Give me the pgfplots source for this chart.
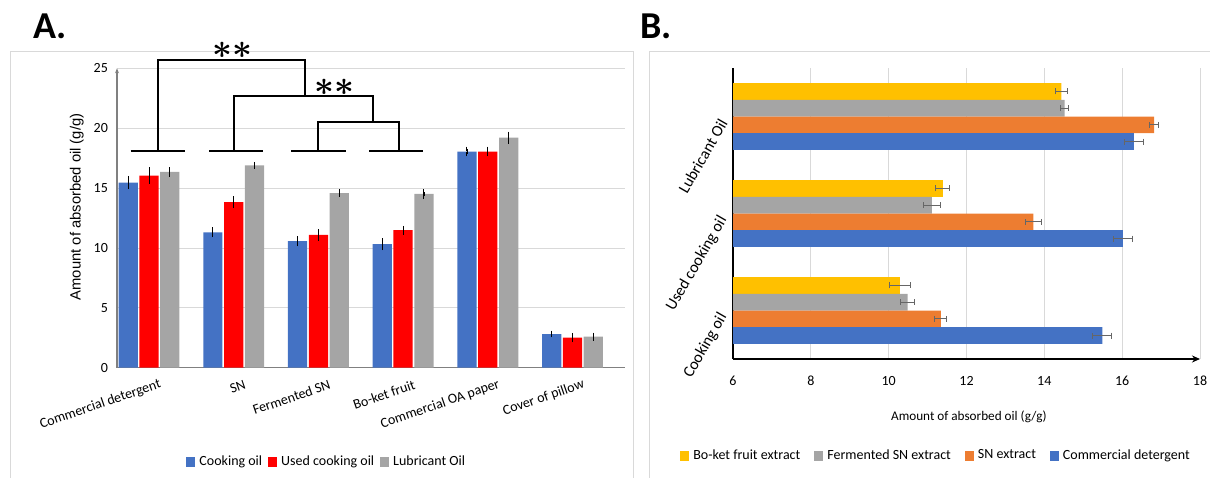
\documentclass[border=0pt]{standalone}
\usepackage{fontspec}
\setmainfont{Carlito}
\newfontfamily\arialfont{Liberation Sans}
\usepackage{pgfplots}
\usepackage{pgfplotstable}
\pgfplotsset{compat=1.18}
\usetikzlibrary{arrows.meta}

\definecolor{cblue}{HTML}{4472C4}
\definecolor{cred}{HTML}{FF0000}
\definecolor{cgray}{HTML}{A5A5A5}
\definecolor{corange}{HTML}{ED7D31}
\definecolor{cyellow}{HTML}{FFC000}
\definecolor{frame}{HTML}{D9D9D9}

% panel A: absorbents x oil type
\pgfplotstableread{
x  blu   eb    red   er    gry   eg
0  15.46 0.35  16.04 0.50  16.35 0.20
1  11.31 0.22  13.82 0.30  16.90 0.08
2  10.56 0.22  11.09 0.28  14.57 0.11
3  10.31 0.29  11.48 0.17  14.51 0.20
4  18.05 0.21  18.05 0.21  19.22 0.30
5  2.81  0.08  2.51  0.20  2.59  0.14
}\tabA

% panel B: oil type x extract
\pgfplotstableread{
y  yel   ey    gry   eg    org   eo    blu   eb
0  10.29 0.26  10.49 0.18  11.34 0.15  15.49 0.24
1  11.39 0.18  11.11 0.22  13.72 0.21  16.02 0.24
2  14.44 0.16  14.52 0.10  16.82 0.11  16.30 0.24
}\tabB

\pgfplotsset{
  sq legend/.style={legend image code/.code={\fill[##1] (0pt,-2.6pt) rectangle (4.5pt,2.6pt);}},
}

\begin{document}
\begin{tikzpicture}[x=1pt,y=1pt]
\useasboundingbox (0,0) rectangle (605,238.5);
\draw[frame, line width=0.5pt] (5,-2) -- (5,212.5) -- (316.5,212.5) -- (316.5,-2);
\draw[frame, line width=0.5pt] (324.5,-2) -- (324.5,212.5) -- (608,212.5);
\node[anchor=base west, inner sep=0, font=\bfseries\fontsize{19}{19}\selectfont] at (16.5,219) {A.};
\node[anchor=base west, inner sep=0, font=\bfseries\fontsize{19}{19}\selectfont] at (320,219) {B.};

\begin{axis}[
  at={(58.5pt,54.65pt)}, anchor=south west,
  scale only axis, width=254pt, height=149.7pt,
  xmin=-0.378, xmax=5.62, ymin=0, ymax=25,
  ytick={0,5,...,25},
  xtick={0,...,5},
  xticklabels={Commercial detergent, SN, Fermented SN, Bo-ket fruit, Commercial OA paper, Cover of pillow},
  axis x line=bottom, axis y line=left,
  x axis line style={-, draw=gray, line width=0.6pt},
  y axis line style={-{Stealth[length=2.5pt,width=2pt]}, draw=gray, line width=0.6pt},
  major tick length=0pt,
  ymajorgrids, grid style={frame, line width=0.4pt},
  ybar, bar width=0.227,
  /pgf/number format/assume math mode=true,
  tick label style={font=\fontsize{7}{8}\selectfont},
  yticklabel style={xshift=-1pt},
  xticklabel style={anchor=east, xshift=9pt, yshift=-7pt, rotate=19},
  ylabel={Amount of absorbed oil (g/g)},
  ylabel style={at={(axis description cs:-0.079,0.537)}, anchor=center, font=\arialfont\fontsize{7.4}{8}\selectfont},
  clip=false,
  sq legend,
  legend columns=3,
  legend style={at={(axis description cs:0.415,-0.315)}, anchor=center, draw=none, fill=none,
    font=\fontsize{7}{8}\selectfont, /tikz/every odd column/.append style={column sep=0pt},
    /tikz/every even column/.append style={column sep=1pt}},
  error bars/error bar style={black, line width=0.4pt},
  error bars/error mark options={black, mark size=1.2pt, line width=0.5pt},
]
\addplot[fill=cblue, draw=none, bar shift=-0.246, error bars/.cd, y dir=both, y explicit]
  table[x=x, y=blu, y error=eb] {\tabA};
\addplot[fill=cred, draw=none, bar shift=0, error bars/.cd, y dir=both, y explicit]
  table[x=x, y=red, y error=er] {\tabA};
\addplot[fill=cgray, draw=none, bar shift=0.246, error bars/.cd, y dir=both, y explicit]
  table[x=x, y=gry, y error=eg] {\tabA};
\legend{Cooking oil, Used cooking oil, Lubricant Oil}

% significance brackets
\addplot[sharp plot, forget plot, black, line width=1pt] coordinates {(-0.216,18.1) (0.426,18.1)};
\addplot[sharp plot, forget plot, black, line width=1pt] coordinates {(0.709,18.1) (1.348,18.1)};
\addplot[sharp plot, forget plot, black, line width=1pt] coordinates {(1.678,18.1) (2.325,18.1)};
\addplot[sharp plot, forget plot, black, line width=1pt] coordinates {(2.600,18.1) (3.239,18.1)};
\addplot[sharp plot, forget plot, black, line width=1pt] coordinates {(0.110,18.1) (0.110,25.7) (1.844,25.7) (1.844,22.7)};
\addplot[sharp plot, forget plot, black, line width=1pt] coordinates {(1.008,18.1) (1.008,22.7) (2.639,22.7) (2.639,20.55)};
\addplot[sharp plot, forget plot, black, line width=1pt] coordinates {(2.001,18.1) (2.001,20.55) (2.955,20.55) (2.955,18.1)};
\node[font={\boldmath\fontsize{16}{16}\selectfont}] at (axis cs:0.98,26.54) {$\ast\ast$};
\node[font={\boldmath\fontsize{16}{16}\selectfont}] at (axis cs:2.19,23.4) {$\ast\ast$};
\end{axis}

\begin{axis}[
  at={(366.5pt,59pt)}, anchor=south west,
  scale only axis, width=233.5pt, height=145.5pt,
  xmin=6, xmax=18, ymin=-0.5, ymax=2.5,
  xtick={6,8,...,18},
  ytick={0,1,2},
  yticklabels={Cooking oil, Used cooking oil, Lubricant Oil},
  axis x line=bottom, axis y line=left,
  x axis line style={-{Stealth[length=4pt,width=3.5pt]}, black, line width=0.9pt},
  y axis line style={-, black, line width=0.9pt},
  major tick length=0pt,
  xmajorgrids, grid style={frame, line width=0.4pt},
  xbar, bar width=0.172,
  /pgf/number format/assume math mode=true,
  tick label style={font=\fontsize{7}{8}\selectfont},
  xticklabel style={yshift=-5pt},
  yticklabel style={anchor=east, xshift=-3pt, yshift=1pt, rotate=60, font=\fontsize{8}{9}\selectfont},
  xlabel={Amount of absorbed oil (g/g)},
  xlabel style={at={(axis description cs:0.505,-0.2)}, anchor=center, font=\fontsize{6.6}{8}\selectfont},
  clip=false,
  sq legend,
  legend columns=4,
  legend style={at={(axis description cs:0.437,-0.333)}, anchor=center, draw=none, fill=none,
    font=\fontsize{7}{8}\selectfont, /tikz/every even column/.append style={column sep=5pt}},
  error bars/error mark=|,
  error bars/error bar style={black!60, line width=0.5pt},
  error bars/error mark options={black!60, mark size=1.5pt, line width=0.5pt},
]
\addplot[fill=cyellow, draw=none, bar shift=0.258, error bars/.cd, x dir=both, x explicit]
  table[x=yel, y=y, x error=ey] {\tabB};
\addplot[fill=cgray, draw=none, bar shift=0.086, error bars/.cd, x dir=both, x explicit]
  table[x=gry, y=y, x error=eg] {\tabB};
\addplot[fill=corange, draw=none, bar shift=-0.086, error bars/.cd, x dir=both, x explicit]
  table[x=org, y=y, x error=eo] {\tabB};
\addplot[fill=cblue, draw=none, bar shift=-0.258, error bars/.cd, x dir=both, x explicit]
  table[x=blu, y=y, x error=eb] {\tabB};
\legend{Bo-ket fruit extract, Fermented SN extract, SN extract, Commercial detergent}
\end{axis}
\end{tikzpicture}
\end{document}
